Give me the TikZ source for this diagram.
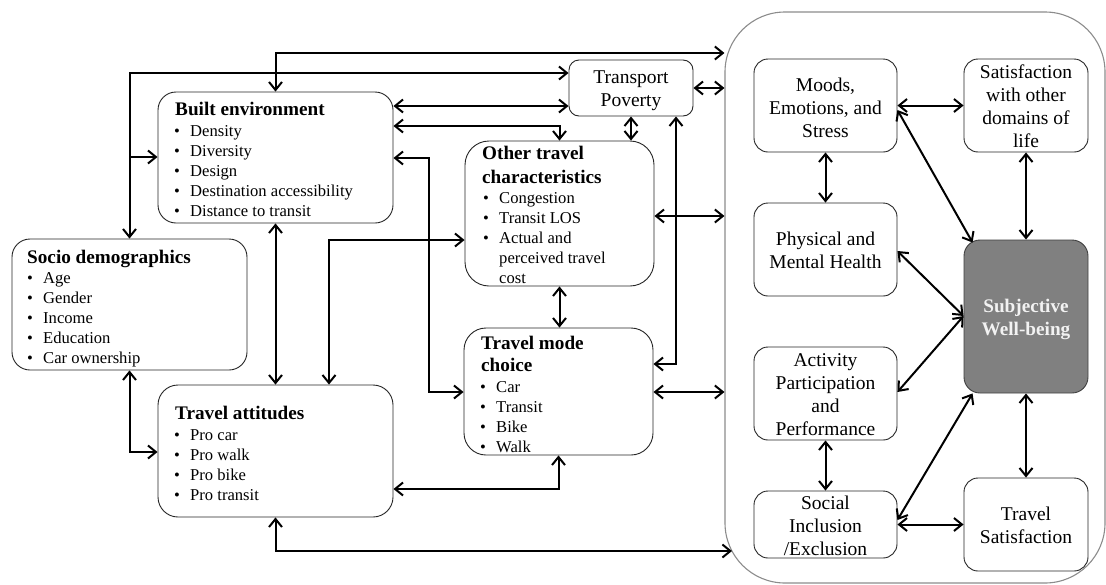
\documentclass[tikz,border=0pt]{standalone}
\usepackage{fontspec}
\setmainfont{Liberation Serif}
\usetikzlibrary{arrows.meta}
% bullet item and the two kinds of text blocks
\newcommand\bl[1]{\makebox[16pt][l]{\textbullet}#1}
\newcommand\ltab[1]{\begin{tabular}[t]{@{}l@{}}#1\end{tabular}}
\newcommand\ctab[1]{\begin{tabular}[t]{@{}c@{}}#1\end{tabular}}
\definecolor{wbgray}{HTML}{808080}
\definecolor{framegray}{HTML}{8C8C8C}
\begin{document}
\begin{tikzpicture}[x=1pt,y=-1pt,
  >={Straight Barb[length=8pt,width=13pt,line width=2pt]},
  rbox/.style={draw=black!85,line width=0.9pt,rounded corners=#1,inner sep=0pt,fill=white},
  rbox/.default=14pt,
  link/.style={line width=2pt,<->},
  link1/.style={line width=2pt,->},
  hdtext/.style={font=\fontsize{19.2}{24}\selectfont\bfseries,anchor=base west,inner sep=0pt},
  itemtext/.style={font=\fontsize{16.6}{20}\selectfont,anchor=base west,inner sep=0pt},
  ctext/.style={font=\fontsize{19.5}{23}\selectfont,anchor=base,inner sep=0pt},
]
\fill[white] (0,0) rectangle (1106,584);
\useasboundingbox (0,0) rectangle (1106,584);

% well-being domain frame
\node[draw=framegray,line width=1.1pt,rounded corners=60pt,minimum width=380pt,minimum height=571pt,inner sep=0pt] (wb) at (915,297.5) {};

% left-hand boxes
\node[rbox=18pt,minimum width=235pt,minimum height=131pt] (sd) at (129.5,304.5) {};
\node[rbox=18pt,minimum width=235pt,minimum height=131pt] (be) at (275.5,157.5) {};
\node[rbox=20pt,minimum width=235pt,minimum height=132pt] (ta) at (275.5,451) {};
\node[rbox=24pt,minimum width=189pt,minimum height=145pt] (otc) at (559.5,213.5) {};
\node[rbox=22pt,minimum width=189pt,minimum height=127pt] (tmc) at (558.5,391.5) {};
\node[rbox=10pt,minimum width=124pt,minimum height=56pt] (tp) at (631,88) {};

% right-hand boxes
\node[rbox,minimum width=143pt,minimum height=93pt] (moods) at (825.5,105.5) {};
\node[rbox,minimum width=124pt,minimum height=93pt] (sat) at (1026,105.5) {};
\node[rbox,minimum width=143pt,minimum height=93pt] (phys) at (825.5,249.5) {};
\node[rbox,minimum width=143pt,minimum height=93pt] (act) at (825.5,393.5) {};
\node[rbox,minimum width=143pt,minimum height=67pt] (soc) at (825.5,524.5) {};
\node[rbox=16pt,draw=black!75,fill=wbgray,minimum width=124pt,minimum height=153pt] (swb) at (1026,316.5) {};
\node[rbox,minimum width=124pt,minimum height=93pt] (tsat) at (1026,524.5) {};

% texts of the left-hand boxes
\node[hdtext] (sd-h) at (27,263) {Socio demographics};
\node[itemtext] (sd-l) at (27,283) {\ltab{\bl{Age}\\\bl{Gender}\\\bl{Income}\\\bl{Education}\\\bl{Car ownership}}};
\node[hdtext] (be-h) at (175,115) {Built environment};
\node[itemtext] (be-l) at (174,136) {\ltab{\bl{Density}\\\bl{Diversity}\\\bl{Design}\\\bl{Destination accessibility}\\\bl{Distance to transit}}};
\node[hdtext] (ta-h) at (175,419) {Travel attitudes};
\node[itemtext] (ta-l) at (174,440) {\ltab{\bl{Pro car}\\\bl{Pro walk}\\\bl{Pro bike}\\\bl{Pro transit}}};
\node[hdtext] (otc-h) at (482,159) {\ltab{Other travel\\characteristics}};
\node[itemtext] (otc-l) at (483,203) {\ltab{\bl{Congestion}\\\bl{Transit LOS}\\\bl{Actual and}\\\hspace*{16pt}perceived travel\\\hspace*{16pt}cost}};
\node[hdtext,font=\fontsize{19.2}{22}\selectfont\bfseries] (tmc-h) at (481,349) {\ltab{Travel mode\\choice}};
\node[itemtext] (tmc-l) at (480,392) {\ltab{\bl{Car}\\\bl{Transit}\\\bl{Bike}\\\bl{Walk}}};
\node[ctext] (tp-t) at (631,83) {\ctab{Transport\\Poverty}};

% texts of the right-hand boxes
\node[ctext] (moods-t) at (825.5,91) {\ctab{Moods,\\Emotions, and\\Stress}};
\node[ctext] (sat-t) at (1026,78) {\ctab{Satisfaction\\with other\\domains of\\life}};
\node[ctext] (phys-t) at (825.5,245) {\ctab{Physical and\\Mental Health}};
\node[ctext] (act-t) at (825.5,366) {\ctab{Activity\\Participation\\and\\Performance}};
\node[ctext] (soc-t) at (825.5,509) {\ctab{Social\\Inclusion\\/Exclusion}};
\node[ctext,font=\fontsize{19.2}{23}\selectfont\bfseries,text=white!95!black] (swb-t) at (1026,312) {\ctab{Subjective\\Well-being}};
\node[ctext] (tsat-t) at (1026,520) {\ctab{Travel\\Satisfaction}};

% connectors on the left
\draw[link] (be.north) |- (wb.west |- 0,53);
\draw[link] (sd.north) |- (tp.west |- 0,73);
\coordinate (sdj) at (sd.north |- 0,157);
\draw[link1] (sdj) -- (be.west |- 0,157);
\draw[link] (be.east |- 0,106) -- (tp.west |- 0,106);
\draw[link] (be.east |- 0,126) -| (otc.north);
\draw[link] (be.east |- 0,158) -- (429,158) |- (tmc.west |- 0,392);
\draw[link] (tp.south) -- (tp.south |- otc.north);
\draw[link] (tp.south -| 676,0) |- (tmc.east |- 0,364);
\draw[link] (tp.east) -- (tp.east -| wb.west);
\draw[link] (otc.east |- 0,216) -- (wb.west |- 0,216);
\draw[link] (otc.south) -- (otc.south |- tmc.north);
\draw[link] (tmc.east |- 0,392) -- (wb.west |- 0,392);
\draw[link] (tmc.south) |- (ta.east |- 0,489);
\coordinate (wbin) at (732,551);
\draw[link] (ta.south) |- (wbin);
\draw[link] (ta.north) -- (be.south);
\draw[link] (ta.north -| 329,0) |- (otc.west |- 0,240);
\draw[link] (sd.south) |- (ta.west |- 0,452);

% connectors inside the frame
\draw[link] (moods.east) -- (sat.west);
\draw[link] (moods.south) -- (phys.north);
\draw[link] (sat.south) -- (swb.north);
\draw[link] (moods.east |- 0,110) -- ([xshift=9pt,yshift=-3pt]swb.north west);
\draw[link] (phys.east |- 0,251) -- (swb.west |- 0,316);
\draw[link] (act.east |- 0,392) -- (swb.west |- 0,316);
\draw[link] (act.south) -- (soc.north);
\draw[link] (soc.east |- 0,520) -- ([xshift=9pt]swb.south west);
\draw[link] (soc.east) -- (tsat.west);
\draw[link] (swb.south) -- (tsat.north);
\end{tikzpicture}
\end{document}
